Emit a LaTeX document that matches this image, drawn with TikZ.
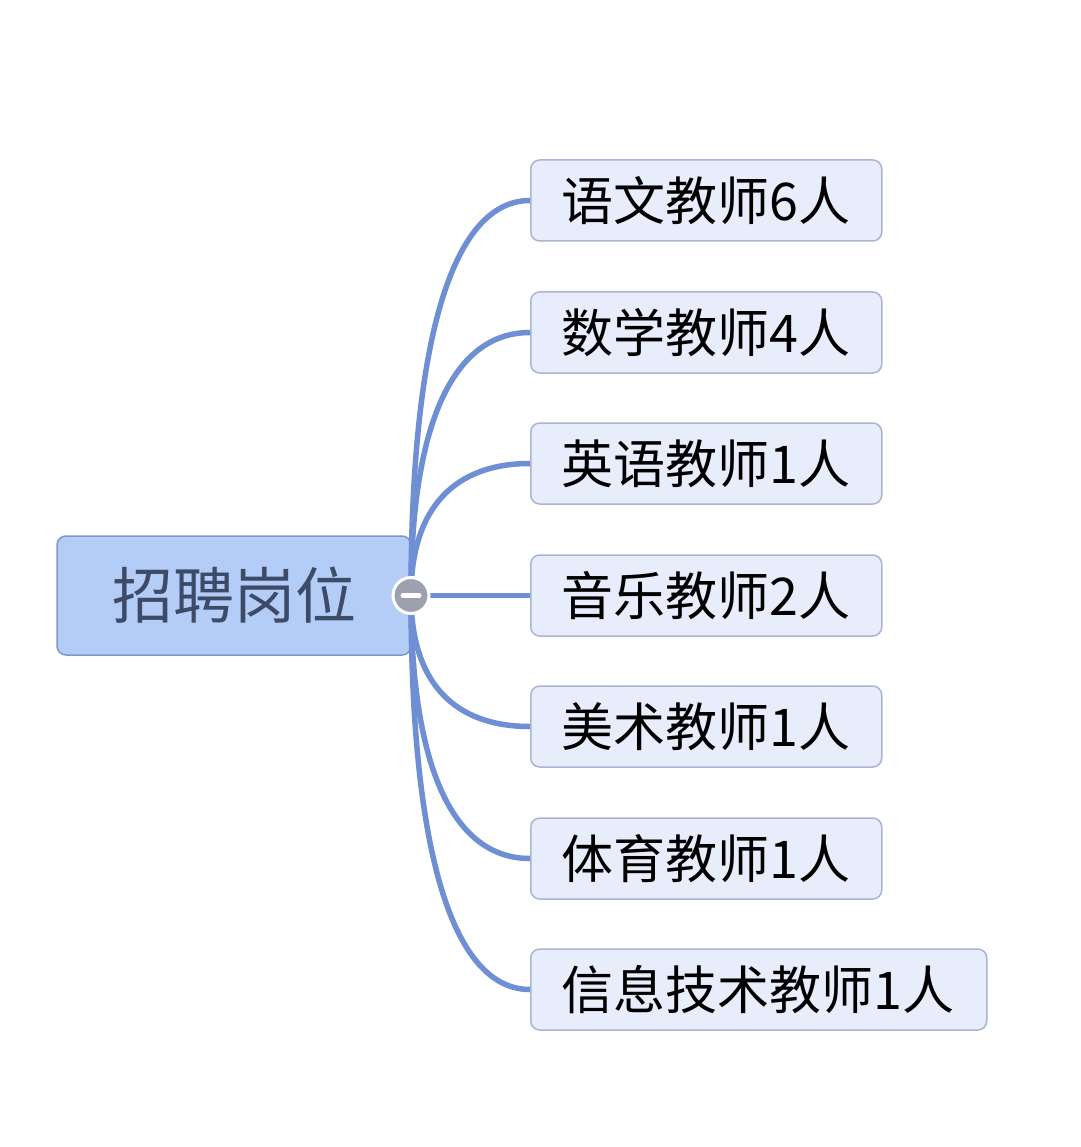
\documentclass[tikz,border=0pt]{standalone}
\usepackage{fontspec}
\setmainfont{Noto Sans CJK SC}
\definecolor{rootfill}{HTML}{B3CDF7}
\definecolor{rootdraw}{HTML}{7E98CA}
\definecolor{roottext}{HTML}{3E4B68}
\definecolor{kidfill}{HTML}{E7EDFB}
\definecolor{kiddraw}{HTML}{A9B5D3}
\definecolor{connc}{HTML}{6F8FD4}
\definecolor{knobc}{HTML}{9DA0AF}
\begin{document}
\begin{tikzpicture}[x=1pt,y=-1pt,
  rootbox/.style={draw=rootdraw,line width=1.5pt,fill=rootfill,rounded corners=9pt,
    minimum width=354pt,minimum height=119pt,inner sep=0pt,text=roottext,
    font=\fontsize{61}{61}\selectfont},
  kidbox/.style={draw=kiddraw,line width=1.5pt,fill=kidfill,rounded corners=9pt,
    anchor=west,minimum height=81pt,inner xsep=31pt,inner ysep=0pt,align=left,
    font=\fontsize{52}{52}\selectfont},
  conn/.style={draw=connc,line width=5.5pt}]
\useasboundingbox[fill=white] (0,0) rectangle (1080,1147);
\node[rootbox] (root) at (234,595.5) {招聘岗位};
\coordinate (hub) at (411,595.5);
\node[kidbox,text width=289pt] (c1) at (530,200.5) {语文教师6人};
\node[kidbox,text width=289pt] (c2) at (530,332.5) {数学教师4人};
\node[kidbox,text width=289pt] (c3) at (530,463.5) {英语教师1人};
\node[kidbox,text width=289pt] (c4) at (530,595.5) {音乐教师2人};
\node[kidbox,text width=289pt] (c5) at (530,726.5) {美术教师1人};
\node[kidbox,text width=289pt] (c6) at (530,858.5) {体育教师1人};
\node[kidbox,text width=394pt] (c7) at (530,989.5) {信息技术教师1人};
\draw[conn] (hub) .. controls +(0,-265) and +(-75,0) .. (c1.west);
\draw[conn] (hub) .. controls +(0,-176) and +(-75,0) .. (c2.west);
\draw[conn] (hub) .. controls +(0,-88) and +(-75,0) .. (c3.west);
\draw[conn] (hub) -- (c4.west);
\draw[conn] (hub) .. controls +(0,88) and +(-75,0) .. (c5.west);
\draw[conn] (hub) .. controls +(0,176) and +(-75,0) .. (c6.west);
\draw[conn] (hub) .. controls +(0,265) and +(-75,0) .. (c7.west);
\node[circle,fill=knobc,draw=white,line width=3pt,minimum size=36pt,inner sep=0pt] (knob) at (hub) {};
\draw[white,line width=5pt,line cap=round] ([xshift=-8pt]knob.center) -- ([xshift=8pt]knob.center);
\end{tikzpicture}
\end{document}
